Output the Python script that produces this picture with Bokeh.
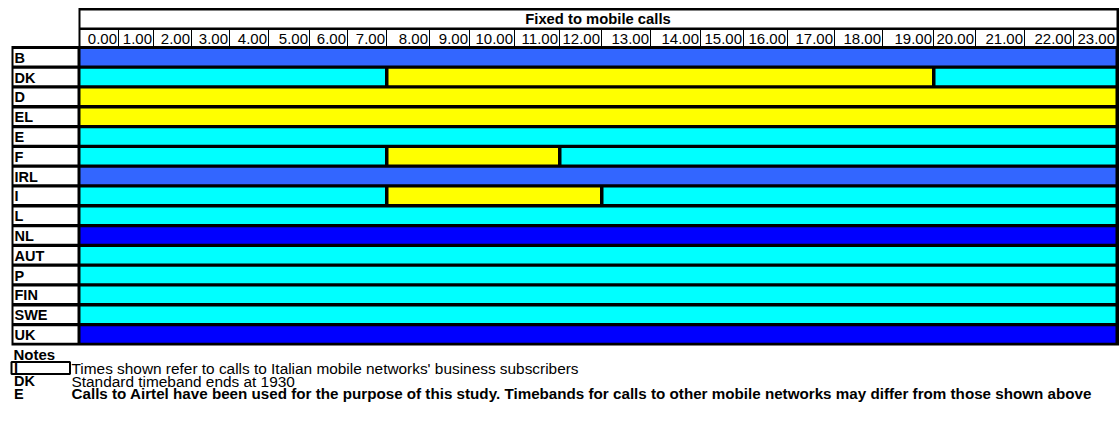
import numpy as np
from bokeh.plotting import figure
from bokeh.models import Range1d, ColumnDataSource
from bokeh.core.properties import value
from bokeh.embed import file_html
from bokeh.resources import INLINE

# ---------------- data ----------------
title = "Fixed to mobile calls"
hour_labels = ["0.00", "1.00", "2.00", "3.00", "4.00", "5.00", "6.00", "7.00",
               "8.00", "9.00", "10.00", "11.00", "12.00", "13.00", "14.00", "15.00",
               "16.00", "17.00", "18.00", "19.00", "20.00", "21.00", "22.00", "23.00"]
countries = ["B", "DK", "D", "EL", "E", "F", "IRL", "I", "L", "NL", "AUT", "P", "FIN", "SWE", "UK"]

band_country = ["B", "DK", "DK", "DK", "D", "EL", "E", "F", "F", "F", "IRL",
                "I", "I", "I", "L", "NL", "AUT", "P", "FIN", "SWE", "UK"]
band_start = [0, 0, 8, 20, 0, 0, 0, 0, 8, 12, 0, 0, 8, 13, 0, 0, 0, 0, 0, 0, 0]
band_end = [24, 8, 20, 24, 24, 24, 24, 8, 12, 24, 24, 8, 13, 24, 24, 24, 24, 24, 24, 24, 24]
band_type = ["flat1", "off", "peak", "off", "peak", "peak", "off", "off", "peak", "off", "flat1",
             "off", "peak", "off", "off", "flat2", "off", "off", "off", "off", "flat2"]

notes_heading = "Notes"
note_keys = ["I", "DK", "E"]
note_texts = ["Times shown refer to calls to Italian mobile networks' business subscribers",
              "Standard timeband ends at 1930",
              "Calls to Airtel have been used for the purpose of this study. Timebands for calls to other mobile networks may differ from those shown above"]

# ---------------- layout / style ----------------
COLORS = {"peak": "#FFFF00", "off": "#00FFFF", "flat1": "#3366FF", "flat2": "#0000FF"}
COL_EDGES = [79, 118, 153, 191, 229, 268, 309, 347, 386, 429, 469, 514, 559, 601,
             650, 700, 743, 787, 834, 882, 933, 975, 1024, 1073, 1116]
ROW_TOP0, ROW_PITCH, ROW_FILL = 48.5, 19.8, 16.5
FONT = value("Liberation Sans")
NOTE_Y = [367.5, 380.5, 393]
NOTE_BOLD = ["normal", "normal", "bold"]
NOTE_SIZE = ["15.4px", "15.4px", "15.2px"]

hours_idx = np.arange(25)


def hx(h):
    return np.interp(h, hours_idx, COL_EDGES)


W, H = 1120, 421
p = figure(width=W, height=H, x_range=Range1d(0, W), y_range=Range1d(H, 0),
           toolbar_location=None, output_backend="svg", min_border=0,
           x_axis_location=None, y_axis_location=None)
p.grid.visible = False
p.outline_line_color = None
p.background_fill_color = "white"
p.border_fill_color = "white"

# header frame
p.quad(left=[78], right=[1118.5], top=[7.5], bottom=[47], color="black", line_color=None)
p.quad(left=[80], right=[1116], top=[10], bottom=[27], color="white", line_color=None)
p.quad(left=[80], right=[1116], top=[29.5], bottom=[45.5], color="white", line_color=None)
inner = COL_EDGES[1:-1]
p.segment(x0=inner, x1=inner, y0=[29.5] * len(inner), y1=[45.5] * len(inner),
          line_color="black", line_width=1)
p.text(x=[(COL_EDGES[0] + COL_EDGES[-1]) / 2], y=[18.5], text=[title], text_align="center",
       text_baseline="middle", text_font=FONT, text_font_style="bold", text_font_size="14.8px",
       text_color="black")
p.text(x=[e - 1.5 for e in COL_EDGES[1:]], y=[38] * 24, text=hour_labels, text_align="right",
       text_baseline="middle", text_font=FONT, text_font_size="15px", text_color="black")

# body frame
n = len(countries)
p.quad(left=[11], right=[1118.5], top=[45.5], bottom=[ROW_TOP0 + ROW_PITCH * (n - 1) + ROW_FILL + 2.8],
       color="black", line_color=None)
row_tops = [ROW_TOP0 + ROW_PITCH * i for i in range(n)]
p.quad(left=[13] * n, right=[77] * n, top=row_tops, bottom=[t + ROW_FILL for t in row_tops],
       color="white", line_color=None)
p.text(x=[14] * n, y=[t + ROW_FILL / 2 + 0.5 for t in row_tops], text=countries, text_align="left",
       text_baseline="middle", text_font=FONT, text_font_style="bold", text_font_size="14.5px",
       text_color="black")

# time bands
ridx = [countries.index(c) for c in band_country]
left = [hx(s) + (1 if s == 0 else 2) for s in band_start]
right = [hx(e) - (1 if e == 24 else 1.5) for e in band_end]
tops = [row_tops[i] for i in ridx]
src = ColumnDataSource(dict(left=left, right=right, top=tops,
                            bottom=[t + ROW_FILL for t in tops],
                            color=[COLORS[b] for b in band_type]))
p.quad(left="left", right="right", top="top", bottom="bottom", color="color", line_color=None, source=src)

# notes
p.text(x=[13], y=[353.5], text=[notes_heading], text_align="left", text_baseline="middle",
       text_font=FONT, text_font_style="bold", text_font_size="15px", text_color="black")
p.quad(left=[11], right=[69.5], top=[361.5], bottom=[373.5], fill_color="white",
       line_color="black", line_width=2)
p.text(x=[13.5] * 3, y=NOTE_Y, text=note_keys, text_align="left", text_baseline="middle",
       text_font=FONT, text_font_style="bold", text_font_size="14.5px", text_color="black")
for t, y, st, fs in zip(note_texts, NOTE_Y, NOTE_BOLD, NOTE_SIZE):
    p.text(x=[71], y=[y], text=[t], text_align="left", text_baseline="middle",
           text_font=FONT, text_font_style=st, text_font_size=fs, text_color="black")

open("out.html", "w").write(file_html(p, INLINE))
